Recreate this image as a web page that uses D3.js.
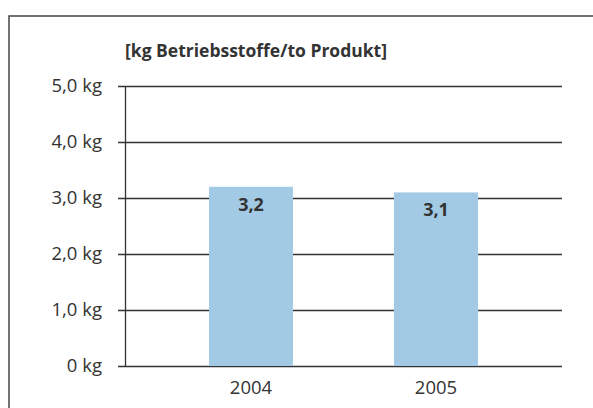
<!DOCTYPE html>
<html>
<head>
<meta charset="utf-8">
<script src="https://cdn.jsdelivr.net/npm/d3@7"></script>
<style>
  body { margin: 0; background: #fff; }
  text { font-family: "Open Sans", "DejaVu Sans", sans-serif; fill: #333; }
</style>
</head>
<body>
<script>
var years = ["2004", "2005"];
var values = [3.2, 3.1];
var yTicks = [0, 1, 2, 3, 4, 5];
var tickLabels = ["0 kg", "1,0 kg", "2,0 kg", "3,0 kg", "4,0 kg", "5,0 kg"];
var valueLabels = ["3,2", "3,1"];
var unitTitle = "[kg Betriebsstoffe/to Produkt]";

var W = 593, H = 408;
var svg = d3.select("body").append("svg")
    .attr("width", W)
    .attr("height", H);

// frame
svg.append("rect")
    .attr("x", 9).attr("y", 16)
    .attr("width", 600).attr("height", 420)
    .attr("fill", "none")
    .attr("stroke", "#444")
    .attr("stroke-width", 1.5);

var plotL = 125, plotR = 562, plotT = 86, plotB = 366;

var x = d3.scaleBand()
    .domain(years)
    .range([plotL, plotR])
    .paddingInner(0.546)
    .paddingOuter(0.454);

var y = d3.scaleLinear()
    .domain([0, 5])
    .range([plotB, plotT]);

// grid lines
svg.append("g")
    .selectAll("line")
    .data(yTicks)
    .enter().append("line")
    .attr("x1", plotL - 7)
    .attr("x2", plotR)
    .attr("y1", function(d){ return y(d) + 0.5; })
    .attr("y2", function(d){ return y(d) + 0.5; })
    .attr("stroke", "#333")
    .attr("stroke-width", 1.3);

// y axis labels
var yAxis = d3.axisLeft(y)
    .tickValues(yTicks)
    .tickSize(0)
    .tickPadding(0)
    .tickFormat(function(d, i){ return tickLabels[i]; });

var ga = svg.append("g")
    .attr("transform", "translate(" + (plotL - 23) + ",0)")
    .call(yAxis);
ga.select(".domain").remove();
ga.attr("font-family", null).attr("font-size", null);
ga.selectAll("text")
    .style("font-size", "18.5px")
    .attr("fill", "#333");

// bars
svg.append("g")
    .selectAll("rect")
    .data(values)
    .enter().append("rect")
    .attr("x", function(d, i){ return x(years[i]); })
    .attr("width", x.bandwidth())
    .attr("y", function(d){ return y(d); })
    .attr("height", function(d){ return plotB - y(d); })
    .attr("fill", "#a3cae4");

// y axis line
svg.append("line")
    .attr("x1", plotL + 0.5).attr("x2", plotL + 0.5)
    .attr("y1", plotT).attr("y2", plotB + 1)
    .attr("stroke", "#333")
    .attr("stroke-width", 1.3);

// value labels
svg.append("g")
    .selectAll("text")
    .data(values)
    .enter().append("text")
    .attr("x", function(d, i){ return x(years[i]) + x.bandwidth() / 2; })
    .attr("y", function(d){ return y(d) + 24; })
    .attr("text-anchor", "middle")
    .style("font-size", "18px")
    .style("font-weight", "bold")
    .text(function(d, i){ return valueLabels[i]; });

// x labels
svg.append("g")
    .selectAll("text")
    .data(years)
    .enter().append("text")
    .attr("x", function(d){ return x(d) + x.bandwidth() / 2; })
    .attr("y", plotB + 28)
    .attr("text-anchor", "middle")
    .style("font-size", "18.5px")
    .text(function(d){ return d; });

// unit title
svg.append("text")
    .attr("x", plotL)
    .attr("y", 57)
    .style("font-size", "17.5px")
    .style("font-weight", "bold")
    .text(unitTitle);
</script>
</body>
</html>
